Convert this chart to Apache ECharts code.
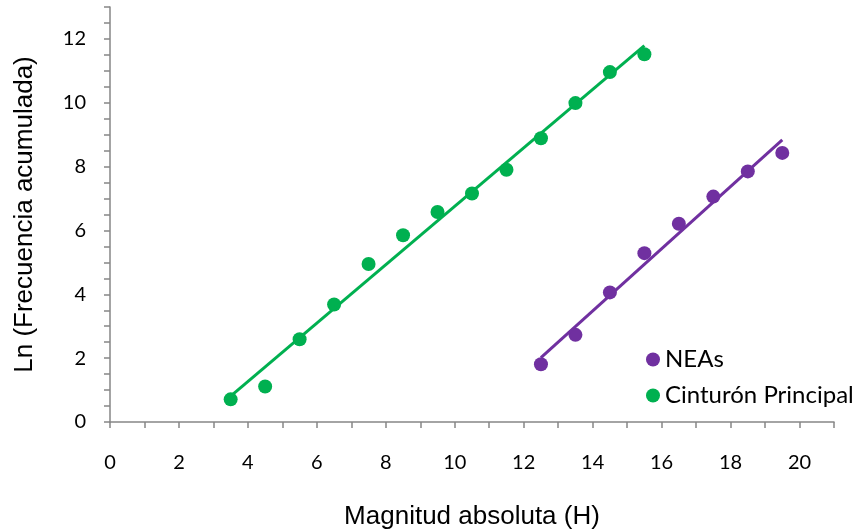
<!DOCTYPE html>
<html>
<head>
<meta charset="utf-8">
<script src="https://cdn.jsdelivr.net/npm/echarts@6/dist/echarts.min.js"></script>
<style>
  html, body { margin: 0; padding: 0; background: #fff; }
  #chart { width: 857px; height: 531px; }
</style>
</head>
<body>
<div id="chart"></div>
<script>
// magnitud absoluta (H) de cada punto
var neaX = [12.5, 13.5, 14.5, 15.5, 16.5, 17.5, 18.5, 19.5];
var neaY = [1.81, 2.73, 4.06, 5.29, 6.21, 7.06, 7.85, 8.43];

var beltX = [3.5, 4.5, 5.5, 6.5, 7.5, 8.5, 9.5, 10.5, 11.5, 12.5, 13.5, 14.5, 15.5];
var beltY = [0.71, 1.11, 2.59, 3.68, 4.95, 5.85, 6.58, 7.16, 7.90, 8.89, 9.99, 10.96, 11.52];

var seriesNames = ['NEAs', 'Cinturón Principal'];
var colors = ['#7030A0', '#00B050'];

function pairs(xs, ys) {
  return xs.map(function (x, i) { return [x, ys[i]]; });
}

// linea de tendencia lineal (minimos cuadrados), como en Excel
function trend(xs, ys) {
  var n = xs.length, mx = 0, my = 0;
  for (var i = 0; i < n; i++) { mx += xs[i]; my += ys[i]; }
  mx /= n; my /= n;
  var sxy = 0, sxx = 0;
  for (var j = 0; j < n; j++) {
    sxy += (xs[j] - mx) * (ys[j] - my);
    sxx += (xs[j] - mx) * (xs[j] - mx);
  }
  var b = sxy / sxx, a = my - b * mx;
  var x0 = xs[0], x1 = xs[n - 1];
  return [[x0, a + b * x0], [x1, a + b * x1]];
}

var chart = echarts.init(document.getElementById('chart'), null, { renderer: 'canvas' });

var axisColor = '#868686';

var option = {
  animation: false,
  grid: { left: 110, right: 23, top: 7, bottom: 109, outerBoundsMode: 'none', containLabel: false },
  legend: {
    data: seriesNames,
    orient: 'vertical',
    left: 641,
    top: 341,
    itemWidth: 14,
    itemHeight: 14,
    itemGap: 9,
    icon: 'circle',
    textStyle: { fontFamily: 'Lato', fontSize: 24, color: '#000', lineHeight: 27 }
  },
  xAxis: {
    type: 'value',
    min: 0,
    max: 21,
    interval: 1,
    name: 'Magnitud absoluta (H)',
    nameLocation: 'middle',
    nameGap: 82,
    nameTextStyle: { fontFamily: 'Liberation Sans', fontSize: 26, color: '#000' },
    axisLine: { show: true, lineStyle: { color: axisColor, width: 1.5 } },
    axisTick: { show: true, length: 6, lineStyle: { color: axisColor, width: 1.5 } },
    splitLine: { show: false },
    axisLabel: {
      margin: 31,
      fontFamily: 'Lato',
      fontSize: 20,
      color: '#000',
      formatter: function (v) { return (v % 2 === 0 && v <= 20) ? String(v) : ''; }
    }
  },
  yAxis: {
    type: 'value',
    min: 0,
    max: 13,
    interval: 0.5,
    name: 'Ln (Frecuencia acumulada)',
    nameLocation: 'middle',
    nameGap: 72,
    nameTextStyle: { fontFamily: 'Liberation Sans', fontSize: 26, color: '#000' },
    axisLine: { show: true, lineStyle: { color: axisColor, width: 1.5 } },
    axisTick: { show: true, length: 6, lineStyle: { color: axisColor, width: 1.5 } },
    splitLine: { show: false },
    axisLabel: {
      margin: 24,
      fontFamily: 'Lato',
      fontSize: 20,
      color: '#000',
      formatter: function (v) { return (v % 2 === 0 && v <= 12) ? String(v) : ''; }
    }
  },
  series: [
    {
      name: seriesNames[0],
      type: 'scatter',
      symbolSize: 14,
      itemStyle: { color: colors[0], opacity: 1 },
      data: pairs(neaX, neaY)
    },
    {
      name: seriesNames[1],
      type: 'scatter',
      symbolSize: 14,
      itemStyle: { color: colors[1], opacity: 1 },
      data: pairs(beltX, beltY)
    },
    {
      name: 'trend-nea',
      type: 'line',
      symbol: 'none',
      silent: true,
      lineStyle: { color: colors[0], width: 3 },
      data: trend(neaX, neaY)
    },
    {
      name: 'trend-belt',
      type: 'line',
      symbol: 'none',
      silent: true,
      lineStyle: { color: colors[1], width: 3 },
      data: trend(beltX, beltY)
    }
  ]
};

chart.setOption(option);
</script>
</body>
</html>
